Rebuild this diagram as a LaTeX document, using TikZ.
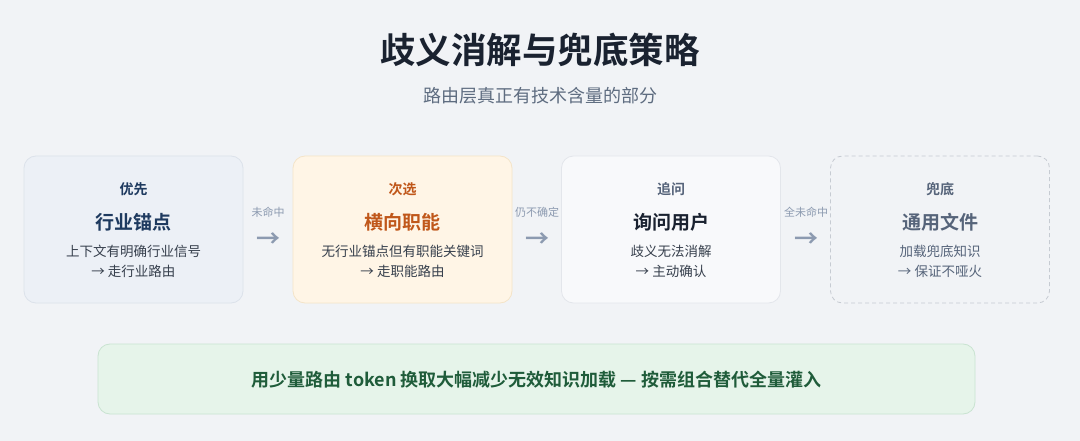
\documentclass[tikz,border=0pt]{standalone}
\usepackage{fontspec}
\setmainfont{Noto Sans CJK SC}[BoldFont={Noto Sans CJK SC Bold}]
\definecolor{bg}{HTML}{F1F3F6}
\definecolor{ink}{HTML}{1A2230}
\definecolor{navy}{HTML}{1E3A5F}
\definecolor{orng}{HTML}{C0571A}
\definecolor{txt}{HTML}{363F4C}
\definecolor{muted}{HTML}{56647A}
\definecolor{sub}{HTML}{5E6C80}
\definecolor{arr}{HTML}{8C9AB0}
\definecolor{grn}{HTML}{1F5C3A}
\definecolor{c1fill}{HTML}{ECF0F6}
\definecolor{c1line}{HTML}{DCE2EA}
\definecolor{c2fill}{HTML}{FFF5E6}
\definecolor{c2line}{HTML}{F4E4C8}
\definecolor{c3fill}{HTML}{F8F9FB}
\definecolor{c3line}{HTML}{E3E6EB}
\definecolor{c4line}{HTML}{C6CBD2}
\definecolor{gfill}{HTML}{E6F4EA}
\definecolor{gline}{HTML}{C9E3D1}
\tikzset{
  card/.style={rounded corners=12pt, line width=0.8pt, minimum width=219pt, minimum height=147pt},
  lbl/.style={font=\bfseries\fontsize{14}{16}\selectfont},
  ttl/.style={font=\bfseries\fontsize{19}{22}\selectfont},
  desc/.style={font=\fontsize{13.5}{20}\selectfont, text=txt, align=center},
  edgelbl/.style={font=\fontsize{11}{13}\selectfont, text=arr},
  arrowglyph/.style={font=\bfseries\fontsize{24}{26}\selectfont, text=arr}
}
\begin{document}
\begin{tikzpicture}[x=1pt,y=-1pt]
\fill[bg] (0,0) rectangle (1080,441);
\useasboundingbox (0,0) rectangle (1080,441);
\node[font=\bfseries\fontsize{35.5}{40}\selectfont, text=ink] (title) at (540,50) {歧义消解与兜底策略};
\node[font=\fontsize{18}{21}\selectfont, text=sub] (subtitle) at (540,96) {路由层真正有技术含量的部分};
% cards
\node[card, draw=c1line, fill=c1fill] (c1) at (133.5,229.5) {};
\node[card, draw=c2line, fill=c2fill] (c2) at (402.5,229.5) {};
\node[card, draw=c3line, fill=c3fill] (c3) at (671,229.5) {};
\node[card, draw=c4line, fill=bg, dashed, dash pattern=on 4pt off 3pt] (c4) at (940,229.5) {};
% card 1
\node[lbl, text=navy] (c1l) at (133.5,189) {优先};
\node[ttl, text=navy] (c1t) at (133.5,222) {行业锚点};
\node[desc] (c1d) at (133.5,261) {上下文有明确行业信号\\→ 走行业路由};
% card 2
\node[lbl, text=orng] (c2l) at (402.5,189) {次选};
\node[ttl, text=orng] (c2t) at (402.5,222) {横向职能};
\node[desc] (c2d) at (402.5,261) {无行业锚点但有职能关键词\\→ 走职能路由};
% card 3
\node[lbl, text=muted] (c3l) at (671,189) {追问};
\node[ttl, text=ink] (c3t) at (671,222) {询问用户};
\node[desc] (c3d) at (671,261) {歧义无法消解\\→ 主动确认};
% card 4
\node[lbl, text=muted] (c4l) at (940,189) {兜底};
\node[ttl, text=muted] (c4t) at (940,222) {通用文件};
\node[desc, text=muted] (c4d) at (940,261) {加载兜底知识\\→ 保证不哑火};
% connectors
\node[edgelbl] (e1l) at (268,212) {未命中};
\node[arrowglyph] (e1a) at (268,240) {→};
\node[edgelbl] (e2l) at (537,212) {仍不确定};
\node[arrowglyph] (e2a) at (537,240) {→};
\node[edgelbl] (e3l) at (806,212) {全未命中};
\node[arrowglyph] (e3a) at (806,240) {→};
% banner
\node[rounded corners=12pt, line width=0.8pt, draw=gline, fill=gfill, minimum width=877pt, minimum height=70pt] (banner) at (536.5,379) {};
\node[font=\bfseries\fontsize{18}{21}\selectfont, text=grn] (bannert) at (536.5,380) {用少量路由 token 换取大幅减少无效知识加载 — 按需组合替代全量灌入};
\end{tikzpicture}
\end{document}
